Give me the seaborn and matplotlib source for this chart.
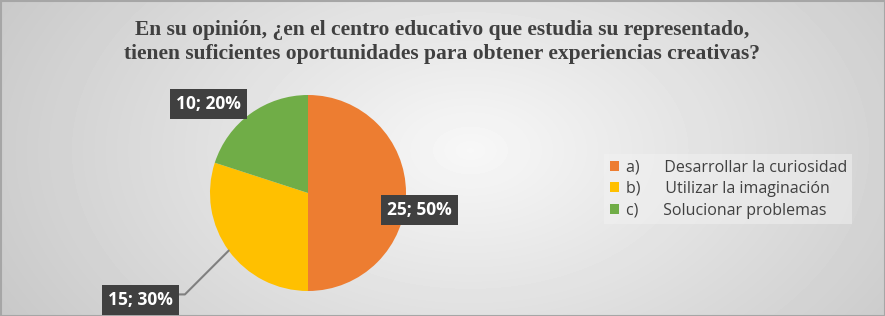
import numpy as np
import seaborn as sns
import matplotlib.pyplot as plt

titulo = ("En su opinión, ¿en el centro educativo que estudia su representado,\n"
          "tienen suficientes oportunidades para obtener experiencias creativas?")
categorias = ["a)      Desarrollar la curiosidad",
              "b)      Utilizar la imaginación",
              "c)      Solucionar problemas"]
valores = [25, 15, 10]
porcentajes = [50, 30, 20]
colores = ["#ED7D31", "#FFC000", "#70AD47"]

sns.set_theme(style="white")
plt.rcParams['font.family'] = ['Open Sans', 'DejaVu Sans']

W, H = 885, 316
fig = plt.figure(figsize=(W / 100, H / 100), dpi=100)

# fondo degradado radial gris
bg = fig.add_axes([0, 0, 1, 1])
yy, xx = np.mgrid[0:H, 0:W]
d = np.sqrt(((xx - 470) / 520) ** 2 + ((yy - 150) / 330) ** 2)
img = np.clip(0.97 - 0.18 * d, 0.77, 1.0)
bg.imshow(img, cmap="gray", vmin=0, vmax=1, aspect="auto", extent=[0, W, H, 0])
bg.set_xlim(0, W)
bg.set_ylim(H, 0)
bg.axis("off")
bg.add_patch(plt.Rectangle((0.5, 0.5), W - 1, H - 1, fill=False, ec="#a6a6a6", lw=1.5))

fig.text(0.5, 1 - 42 / H, titulo, ha="center", va="center", fontsize=15.5,
         fontweight="bold", family=["Liberation Serif"], color="#404040",
         linespacing=1.2, transform=fig.transFigure)

# pastel
cx, cy, r = 308, 193, 98
ax = fig.add_axes([(cx - r) / W, (H - cy - r) / H, 2 * r / W, 2 * r / H])
wedges, _ = ax.pie(valores, colors=colores, startangle=90, counterclock=False,
                   radius=1, wedgeprops=dict(linewidth=0))
ax.set_xlim(-1, 1)
ax.set_ylim(-1, 1)
ax.set_aspect("auto")

caja = dict(boxstyle="square,pad=0.35", fc="#404040", ec="none")
pos_etiqueta = [(1.14, -0.17), (-1.71, -1.09), (-1.02, 0.91)]
for w, v, p, (tx, ty) in zip(wedges, valores, porcentajes, pos_etiqueta):
    ang = np.deg2rad((w.theta1 + w.theta2) / 2)
    px, py = np.cos(ang), np.sin(ang)
    texto = f"{v}; {p}%"
    if tx < -1.5:
        ax.annotate(texto, xy=(px, py), xytext=(tx, ty), ha="center", va="center",
                    fontsize=12.5, fontweight="bold", color="white", bbox=caja,
                    annotation_clip=False,
                    arrowprops=dict(arrowstyle="-", color="#808080", lw=1.5,
                                    connectionstyle="angle,angleA=0,angleB=45,rad=0",
                                    shrinkA=0, shrinkB=0, relpos=(1, 0.8)))
    else:
        ax.text(tx, ty, texto, ha="center", va="center", fontsize=12.5,
                fontweight="bold", color="white", bbox=caja, clip_on=False)

# leyenda
handles = [plt.Rectangle((0, 0), 1, 1, fc=c, ec="none") for c in colores]
fig.legend(handles, categorias, loc="center left", bbox_to_anchor=(596 / W, 1 - 189 / H),
           frameon=True, facecolor="#f2f2f2", edgecolor="none", fancybox=False,
           fontsize=11.5, handlelength=0.6, handleheight=0.6, handletextpad=0.4,
           labelspacing=0.35, labelcolor="#404040", borderpad=0.35, framealpha=0.5)

fig.savefig("out.png", dpi=100)
